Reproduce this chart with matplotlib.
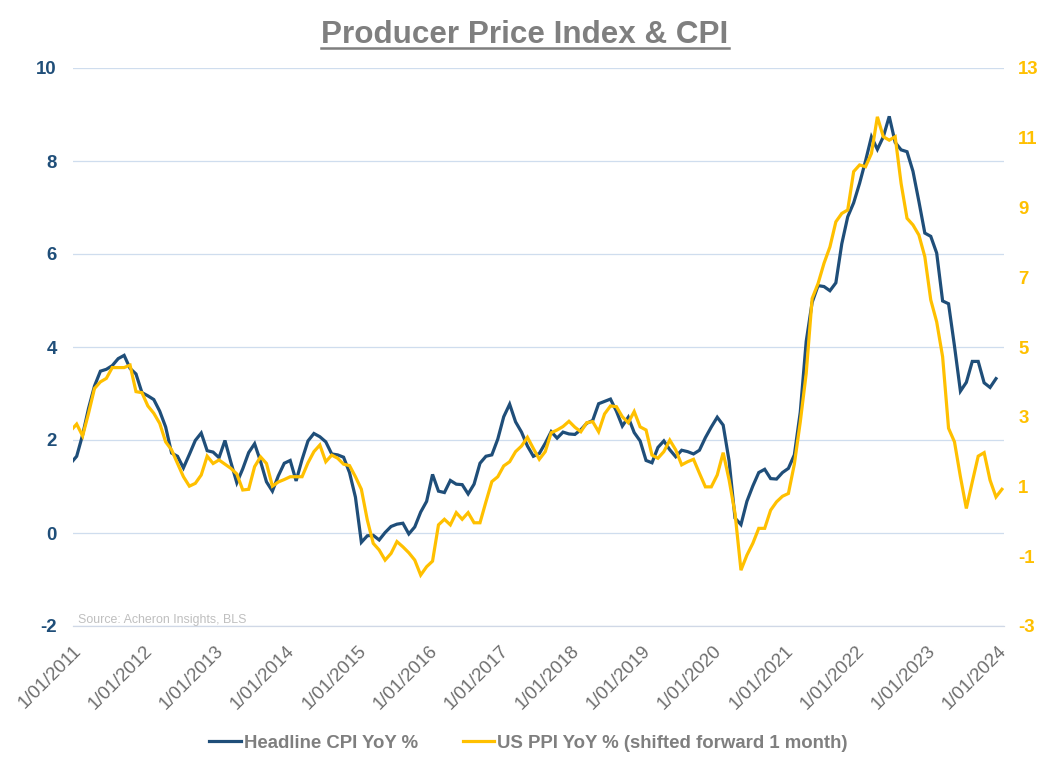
import numpy as np
import matplotlib
matplotlib.use("Agg")
import matplotlib.pyplot as plt
from matplotlib.lines import Line2D
from matplotlib.transforms import ScaledTranslation

# ---------------- data ----------------
tick_labels = ["1/01/%d" % y for y in range(2011, 2025)]

# Headline CPI YoY %, monthly, Dec 2010 .. Dec 2023
cpi_yoy = [1.50,
    1.65, 2.11, 2.68, 3.16, 3.48, 3.52, 3.60, 3.75, 3.82, 3.54, 3.42, 3.02,
    2.95, 2.87, 2.62, 2.28, 1.72, 1.65, 1.40, 1.69, 1.99, 2.15, 1.77, 1.74,
    1.62, 1.99, 1.52, 1.08, 1.38, 1.73, 1.92, 1.54, 1.10, 0.90, 1.23, 1.50,
    1.56, 1.12, 1.58, 1.98, 2.14, 2.07, 1.96, 1.70, 1.68, 1.63, 1.30, 0.77,
    -0.20, -0.06, -0.05, -0.15, 0.01, 0.14, 0.19, 0.21, -0.02, 0.13, 0.45, 0.68,
    1.26, 0.90, 0.87, 1.13, 1.05, 1.04, 0.84, 1.05, 1.50, 1.65, 1.68, 2.02,
    2.50, 2.77, 2.39, 2.17, 1.87, 1.65, 1.71, 1.93, 2.18, 2.04, 2.17, 2.13,
    2.12, 2.22, 2.36, 2.42, 2.78, 2.83, 2.88, 2.62, 2.30, 2.49, 2.16, 1.98,
    1.56, 1.51, 1.84, 1.98, 1.79, 1.64, 1.78, 1.75, 1.70, 1.78, 2.05, 2.28,
    2.49, 2.32, 1.55, 0.32, 0.18, 0.68, 1.01, 1.30, 1.37, 1.17, 1.16, 1.30,
    1.39, 1.68, 2.60, 4.12, 4.96, 5.32, 5.30, 5.21, 5.38, 6.22, 6.80, 7.10,
    7.52, 8.00, 8.52, 8.25, 8.52, 8.96, 8.40, 8.24, 8.20, 7.78, 7.13, 6.45,
    6.38, 6.02, 4.99, 4.93, 4.02, 3.05, 3.24, 3.69, 3.69, 3.23, 3.13, 3.32]

# US PPI YoY % shifted forward one month, plotted Dec 2010 .. Jan 2024
ppi_yoy = [2.60,
    2.79, 2.45, 3.10, 3.81, 4.00, 4.10, 4.41, 4.41, 4.41, 4.48, 3.72, 3.69,
    3.31, 3.10, 2.81, 2.28, 2.05, 1.66, 1.28, 1.01, 1.09, 1.33, 1.87, 1.66,
    1.76, 1.64, 1.52, 1.36, 0.90, 0.92, 1.57, 1.85, 1.66, 1.01, 1.13, 1.20,
    1.28, 1.28, 1.28, 1.68, 2.00, 2.19, 1.71, 1.90, 1.81, 1.64, 1.60, 1.28,
    0.92, 0.04, -0.63, -0.82, -1.11, -0.92, -0.58, -0.73, -0.90, -1.11, -1.54, -1.30,
    -1.14, -0.10, 0.06, -0.10, 0.25, 0.06, 0.25, -0.04, -0.04, 0.56, 1.14, 1.28,
    1.59, 1.71, 2.00, 2.16, 2.41, 2.09, 1.78, 2.00, 2.54, 2.62, 2.72, 2.87,
    2.70, 2.57, 2.83, 2.86, 2.57, 3.08, 3.31, 3.29, 3.00, 2.83, 3.15, 2.71,
    2.62, 1.90, 1.81, 2.00, 2.33, 2.05, 1.62, 1.71, 1.78, 1.38, 0.99, 0.99,
    1.33, 1.97, 1.19, 0.23, -1.40, -0.97, -0.63, -0.20, -0.20, 0.32, 0.56, 0.72,
    0.80, 1.64, 2.85, 4.24, 6.39, 6.82, 7.40, 7.87, 8.59, 8.83, 8.93, 10.03,
    10.22, 10.17, 10.55, 11.60, 11.03, 10.93, 11.03, 9.69, 8.69, 8.50, 8.21, 7.59,
    6.35, 5.72, 4.72, 2.67, 2.28, 1.28, 0.37, 1.13, 1.87, 1.97, 1.18, 0.70,
    0.92]

left_ticks = [-2, 0, 2, 4, 6, 8, 10]
right_ticks = [-3, -1, 1, 3, 5, 7, 9, 11, 13]

# ---------------- style ----------------
FONT = ["Liberation Sans", "DejaVu Sans"]
plt.rcParams["font.family"] = FONT
plt.rcParams["axes.unicode_minus"] = False
BLUE = "#1F4E79"
GOLD = "#FFC000"
GREY = "#7F7F7F"

W, H = 1056, 768
fig = plt.figure(figsize=(W / 100, H / 100), dpi=100)
fig.patch.set_facecolor("white")

x0, x1, ytop, ybot = 73.3, 1004.3, 68, 626
ax = fig.add_axes([x0 / W, 1 - ybot / H, (x1 - x0) / W, (ybot - ytop) / H])
ax2 = ax.twinx()

# months since Jan 2011 (first point = Dec 2010)
x_cpi = np.arange(len(cpi_yoy)) - 1
x_ppi = np.arange(len(ppi_yoy)) - 1

ax.plot(x_cpi, cpi_yoy, color=BLUE, lw=2.3, solid_joinstyle="miter",
        label="Headline CPI YoY %", zorder=3)
ax2.plot(x_ppi, ppi_yoy, color=GOLD, lw=2.3, solid_joinstyle="miter",
         label="US PPI YoY % (shifted forward 1 month)", zorder=3)

ax.set_xlim(-0.57, 156.4)
ax.set_ylim(-2, 10)
ax2.set_ylim(-3, 13)
ax.set_yticks(left_ticks)
ax2.set_yticks(right_ticks)
ax.set_xticks(np.arange(len(tick_labels)) * 12)
ax.set_xticklabels(tick_labels)

ax.yaxis.grid(True, color="#CFDDEE", lw=0.9)
ax.set_axisbelow(True)
for a in (ax, ax2):
    for s in ("top", "left", "right", "bottom"):
        a.spines[s].set_visible(False)
ax.spines["bottom"].set_visible(True)
ax.spines["bottom"].set_color("#D0D8E6")
ax.spines["bottom"].set_linewidth(0.9)

ax.tick_params(axis="y", length=0, pad=12, labelsize=13.4, labelcolor=BLUE)
ax2.tick_params(axis="y", length=0, pad=10, labelsize=13.4, labelcolor=GOLD)
ax.tick_params(axis="x", length=0, pad=16, labelsize=13.4, labelcolor="#6E6E6E")
for t in ax.get_yticklabels():
    t.set_fontweight("bold")
for t in ax2.get_yticklabels():
    t.set_fontweight("bold")
off = ScaledTranslation(2 / 100, 0, fig.dpi_scale_trans)
for t in ax.get_xticklabels():
    t.set_rotation(45)
    t.set_ha("right")
    t.set_va("center")
    t.set_rotation_mode("anchor")
    t.set_transform(t.get_transform() + off)

# title with underline
title = fig.text(0.4972, 1 - 43 / H, "Producer Price Index & CPI", ha="center",
                 va="baseline", fontsize=22.6, fontweight="bold", color=GREY)
r = fig.canvas.get_renderer()
bb = title.get_window_extent(renderer=r)
uy = 1 - 47.5 / H
fig.add_artist(Line2D([bb.x0 / W, bb.x1 / W], [uy, uy], color=GREY, lw=1.8,
                      transform=fig.transFigure))

# source
fig.text(78 / W, 1 - 622.5 / H, "Source: Acheron Insights, BLS", fontsize=8.9,
         color="#BFBFBF", va="baseline", ha="left")

# legend
h1, l1 = ax.get_legend_handles_labels()
h2, l2 = ax2.get_legend_handles_labels()
leg = fig.legend(h1 + h2, l1 + l2, loc="center", bbox_to_anchor=(528.5 / W, 1 - 743 / H),
                 ncol=2, frameon=False, handlelength=1.67, handletextpad=0.18,
                 columnspacing=2.4, prop={"family": FONT, "weight": "bold", "size": 13.4})
for t in leg.get_texts():
    t.set_color(GREY)

fig.savefig("out.png", dpi=100, facecolor="white")
